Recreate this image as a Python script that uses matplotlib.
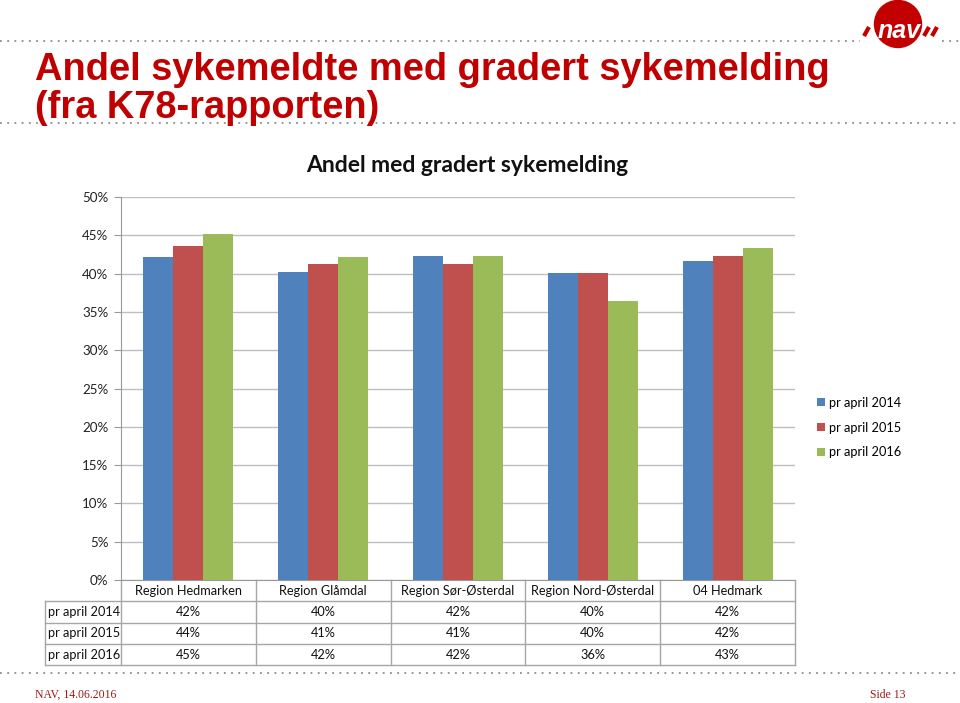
# Andel sykemeldte med gradert sykemelding - grouped bars with data table

import numpy as np
import matplotlib.pyplot as plt
from matplotlib.lines import Line2D
from matplotlib.patches import Circle
import matplotlib.transforms as mtransforms

regions = ['Region Hedmarken', 'Region Glåmdal', 'Region Sør-Østerdal',
           'Region Nord-Østerdal', '04 Hedmark']
series = ['pr april 2014', 'pr april 2015', 'pr april 2016']
v2014 = [0.422, 0.402, 0.423, 0.401, 0.416]
v2015 = [0.436, 0.413, 0.413, 0.401, 0.423]
v2016 = [0.452, 0.422, 0.423, 0.364, 0.434]
colors = ['#4f81bd', '#c0504d', '#9bbb59']

W, H = 960, 703
fig = plt.figure(figsize=(W / 100, H / 100), dpi=100)

def fx(px):
    return px / W

def fy(py):
    return 1 - py / H

FS = 9.2  # Calibri-ish text size in the chart

# plot area
ax = fig.add_axes([fx(121), fy(580), fx(795) - fx(121), fy(197) - fy(580)])
ind = np.arange(len(regions))
width = 0.223
for i, vals in enumerate([v2014, v2015, v2016]):
    ax.bar(ind + (i - 1) * width, vals, width, color=colors[i], label=series[i], zorder=3)

ax.set_xlim(-0.5, len(regions) - 0.5)
ax.set_ylim(0, 0.5)
ax.set_yticks(np.arange(0, 0.51, 0.05))
ax.set_yticklabels(['%d%%' % round(t * 100) for t in np.arange(0, 0.51, 0.05)],
                   fontsize=9.6, family='Lato', color='#222222')
ax.set_xticks([])
ax.yaxis.grid(True, color='#bfbfbf', linewidth=1, zorder=0)
for s in ['top', 'right']:
    ax.spines[s].set_visible(False)
ax.spines['left'].set_color('#999999')
ax.spines['bottom'].set_color('#999999')
ax.tick_params(axis='y', length=5, color='#999999', pad=4)

# chart title sits a bit right of the axes centre in the original
fig.text(fx(467), fy(165), 'Andel med gradert sykemelding', fontsize=16.5,
         fontweight='bold', family='Lato', color='#111111', ha='center', va='center')

leg = ax.legend(loc='center left', bbox_to_anchor=(1.016, 0.398), frameon=False,
                handlelength=0.6, handleheight=0.6, handletextpad=0.35,
                labelspacing=1.0, prop={'family': 'Lato', 'size': FS})

# data table under the chart: x in data units, y in axes units
tr = mtransforms.blended_transform_factory(ax.transData, ax.transAxes)
row_h = 21.3 / 383
grid_c = '#a6a6a6'
label_left = -0.5 - 76 / 134.8
nrows = 1 + len(series)
table_bottom = -nrows * row_h
for r in range(1, nrows + 1):
    ax.add_line(Line2D([label_left, len(regions) - 0.5], [-r * row_h] * 2,
                       transform=tr, color=grid_c, lw=1, clip_on=False))
for c in range(len(regions) + 1):
    ax.add_line(Line2D([c - 0.5] * 2, [0, table_bottom], transform=tr,
                       color=grid_c, lw=1, clip_on=False))
ax.add_line(Line2D([label_left] * 2, [-row_h, table_bottom], transform=tr,
                   color=grid_c, lw=1, clip_on=False))

for c, name in enumerate(regions):
    ax.text(c, -0.5 * row_h, name, transform=tr, ha='center', va='center',
            fontsize=FS, family='Lato', color='#111111')
for r, (name, vals) in enumerate(zip(series, [v2014, v2015, v2016])):
    y = -(r + 1.5) * row_h
    ax.text(label_left + 0.02, y, name, transform=tr, ha='left', va='center',
            fontsize=FS, family='Lato', color='#111111')
    for c, v in enumerate(vals):
        ax.text(c, y, '%d%%' % round(v * 100), transform=tr, ha='center',
                va='center', fontsize=FS, family='Lato', color='#111111')

# slide decoration
dot = dict(color='#8c8c8c', lw=1.3, linestyle=(0, (1, 3)), transform=fig.transFigure)
fig.add_artist(Line2D([0, fx(860)], [fy(41)] * 2, **dot))
fig.add_artist(Line2D([fx(942), 1], [fy(41)] * 2, **dot))
fig.add_artist(Line2D([0, 1], [fy(123)] * 2, **dot))
fig.add_artist(Line2D([0, 1], [fy(673)] * 2, **dot))

fig.text(fx(35), fy(89), 'Andel sykemeldte med gradert sykemelding\n(fra K78-rapporten)',
         fontsize=27.4, fontweight='bold', family='Liberation Sans', color='#c00000',
         va='center', ha='left', linespacing=1.1)

fig.text(fx(35), fy(695), 'NAV, 14.06.2016', fontsize=8.5, family='Liberation Serif',
         color='#9b1b1b', va='center')
fig.text(fx(906), fy(695), 'Side 13', fontsize=8.5, family='Liberation Serif',
         color='#9b1b1b', va='center', ha='right')

# NAV logo, drawn in pixel units (y down)
lax = fig.add_axes([fx(850), fy(52), fx(100), fy(0) - fy(52)])
lax.set_xlim(850, 950)
lax.set_ylim(52, 0)
lax.axis('off')
lax.add_patch(Circle((898, 24), 23.5, color='#c30000'))
lax.text(899, 31, 'nav', color='white', fontsize=18, fontweight='bold', style='italic',
         family='Liberation Sans', ha='center', va='center')
for x0 in [864, 924, 932]:
    lax.add_line(Line2D([x0, x0 + 5], [36, 27], color='#c30000', lw=3,
                        solid_capstyle='butt'))

fig.savefig('out.png', dpi=100)
